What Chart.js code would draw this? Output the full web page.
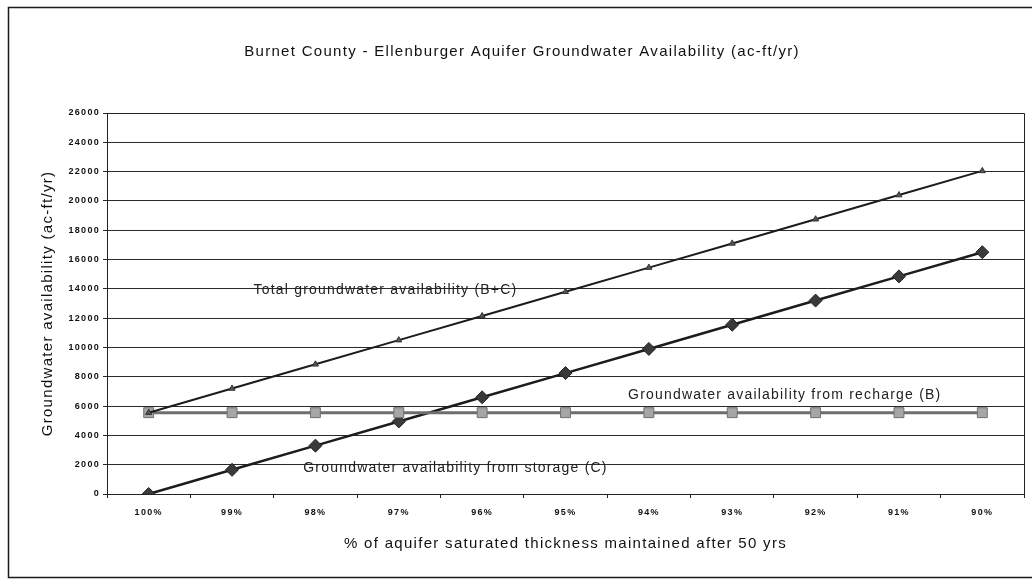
<!DOCTYPE html>
<html>
<head>
<meta charset="utf-8">
<script src="https://cdn.jsdelivr.net/npm/chart.js@4.4.1/dist/chart.umd.min.js"></script>
<style>
  html, body { margin: 0; padding: 0; background: #fff; }
  #wrap { width: 1032px; height: 580px; position: relative; }
</style>
</head>
<body>
<div id="wrap"><canvas id="c" width="1032" height="580"></canvas></div>
<script>
const categories = ['100%', '99%', '98%', '97%', '96%', '95%', '94%', '93%', '92%', '91%', '90%'];
const rechargeB = [5550, 5550, 5550, 5550, 5550, 5550, 5550, 5550, 5550, 5550, 5550];
const storageC = [0, 1650, 3300, 4950, 6600, 8250, 9900, 11550, 13200, 14850, 16500];
const totalBC = [5550, 7200, 8850, 10500, 12150, 13800, 15450, 17100, 18750, 20400, 22050];
const yTicks = [0, 2000, 4000, 6000, 8000, 10000, 12000, 14000, 16000, 18000, 20000, 22000, 24000, 26000];

const titleText = 'Burnet County - Ellenburger Aquifer Groundwater Availability (ac-ft/yr)';
const xTitle = '% of aquifer saturated thickness maintained after 50 yrs';
const yTitle = 'Groundwater availability (ac-ft/yr)';
const seriesNames = ['Total groundwater availability (B+C)', 'Groundwater availability from recharge (B)', 'Groundwater availability from storage (C)'];
// annotation anchors in data space: [category index, value]
const labelAnchors = [[2.84, 13920], [7.63, 6760], [3.68, 1780]];

const FONT = '"Liberation Sans", Arial, sans-serif';

const framePlugin = {
  id: 'frame',
  beforeDraw(chart) {
    const ctx = chart.ctx;
    ctx.save();
    ctx.fillStyle = '#fff';
    ctx.fillRect(0, 0, chart.width, chart.height);
    ctx.strokeStyle = '#1a1a1a';
    ctx.lineWidth = 1.5;
    ctx.strokeRect(8.5, 7.5, 1040, 570);
    ctx.restore();
    ctx.letterSpacing = '1.3px';
  },
  beforeDatasetsDraw(chart) {
    const ctx = chart.ctx, a = chart.chartArea;
    ctx.save();
    ctx.strokeStyle = '#222';
    ctx.lineWidth = 1;
    ctx.beginPath();
    ctx.moveTo(a.left, Math.round(a.top) + 0.5);
    ctx.lineTo(Math.round(a.right) + 0.5, Math.round(a.top) + 0.5);
    ctx.lineTo(Math.round(a.right) + 0.5, a.bottom);
    ctx.stroke();
    ctx.restore();
  },
  afterDatasetsDraw(chart) {
    const ctx = chart.ctx;
    const xs = chart.scales.x, ys = chart.scales.y;
    ctx.save();
    ctx.letterSpacing = '1.2px';
    ctx.fillStyle = '#222';
    ctx.font = '14px ' + FONT;
    ctx.textAlign = 'center';
    ctx.textBaseline = 'middle';
    labelAnchors.forEach((p, i) => {
      ctx.fillText(seriesNames[i], xs.getPixelForValue(p[0]), ys.getPixelForValue(p[1]));
    });
    ctx.restore();
  }
};

new Chart(document.getElementById('c'), {
  type: 'line',
  data: {
    labels: categories,
    datasets: [
      {
        label: seriesNames[0], data: totalBC,
        borderColor: '#1c1c1c', borderWidth: 2,
        pointStyle: 'triangle', pointRadius: 3.5,
        pointBackgroundColor: '#555', pointBorderColor: '#333', pointBorderWidth: 1,
        tension: 0
      },
      {
        label: seriesNames[1], data: rechargeB,
        borderColor: '#6e6e6e', borderWidth: 3,
        pointStyle: 'rect', pointRadius: 7,
        pointBackgroundColor: '#a6a6a6', pointBorderColor: '#707070', pointBorderWidth: 1,
        tension: 0
      },
      {
        label: seriesNames[2], data: storageC,
        borderColor: '#1c1c1c', borderWidth: 2.5,
        pointStyle: 'rectRot', pointRadius: 6.5,
        pointBackgroundColor: '#3a3a3a', pointBorderColor: '#222', pointBorderWidth: 1,
        tension: 0
      }
    ]
  },
  options: {
    responsive: false,
    animation: false,
    devicePixelRatio: 1,
    layout: { padding: { left: 18, right: 6, top: 0, bottom: 0 } },
    plugins: {
      legend: { display: false },
      tooltip: { enabled: false },
      title: {
        display: true, text: titleText, color: '#111',
        font: { family: FONT, size: 15, weight: 'normal', lineHeight: 1.2 },
        padding: { top: 43, bottom: 52 }
      }
    },
    scales: {
      x: {
        type: 'category',
        offset: true,
        afterFit(scale) { scale.height = 86; },
        grid: { offset: true, drawOnChartArea: false, drawTicks: true, tickLength: 4, color: '#222' },
        border: { color: '#222', width: 1 },
        ticks: { color: '#111', padding: 9, maxRotation: 0, font: { family: FONT, size: 9, weight: 'bold' } },
        title: {
          display: true, text: xTitle, color: '#111',
          font: { family: FONT, size: 15, weight: 'normal', lineHeight: 1.2 },
          padding: { top: 0, bottom: 27 }
        }
      },
      y: {
        min: 0, max: 26000,
        afterFit(scale) { scale.width = 89; },
        afterBuildTicks(scale) { scale.ticks = yTicks.map(v => ({ value: v })); },
        grid: { color: '#2a2a2a', lineWidth: 1, tickLength: 4 },
        border: { color: '#222', width: 1 },
        ticks: { color: '#111', padding: 3, font: { family: FONT, size: 9, weight: 'bold' }, callback: v => String(v) },
        title: {
          display: true, text: yTitle, color: '#111',
          font: { family: FONT, size: 15, weight: 'normal', lineHeight: 1.2 },
          padding: { top: 21, bottom: 0 }
        }
      }
    }
  },
  plugins: [framePlugin]
});
</script>
</body>
</html>
